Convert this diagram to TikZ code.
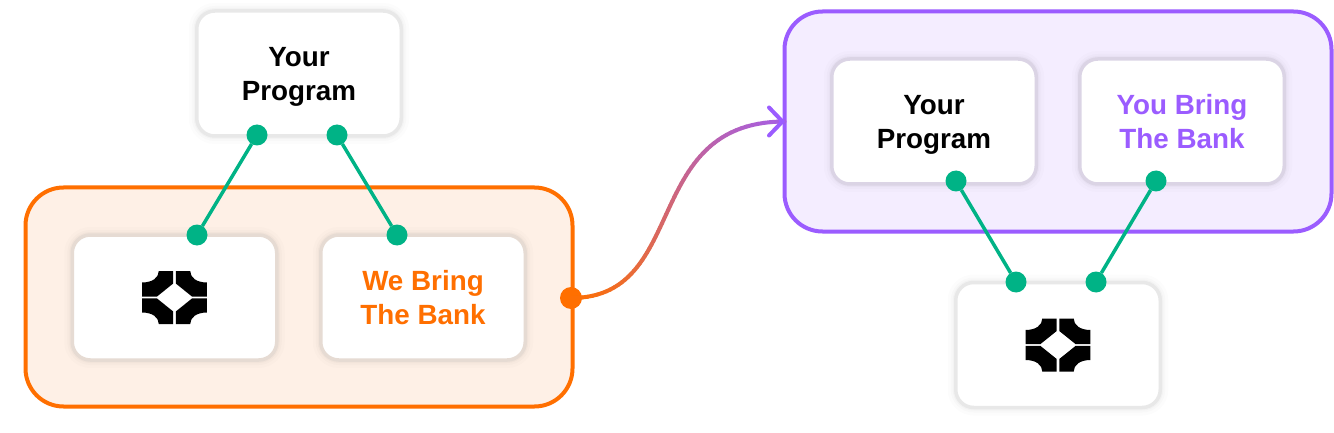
\documentclass[tikz,border=0pt]{standalone}
\usepackage{fontspec}
\setmainfont{Liberation Sans}
\definecolor{brandorange}{HTML}{FF6F00}
\definecolor{brandpurple}{HTML}{9B5CFF}
\definecolor{orangebg}{HTML}{FEF0E6}
\definecolor{purplebg}{HTML}{F4EDFF}
\definecolor{linkgreen}{HTML}{00B386}
\definecolor{cardedge}{HTML}{E8E8E8}
\definecolor{cardedgeo}{HTML}{E6DBD3}
\definecolor{cardedgep}{HTML}{DBD4E5}
\newcommand{\logoquad}{(-15.7,-26.5) -- (-1.3,-26.5) -- (-1.3,-14) -- (-17.7,-0.8) -- (-32.3,-0.8) -- (-32.3,-15) .. controls (-22,-15) and (-15.7,-20) .. (-15.7,-26.5) -- cycle}
\newcommand{\nd}[1]{\raisebox{0pt}[\height][0pt]{#1}}
\tikzset{
  x=1pt,y=-1pt,
  softshadow/.style={
    preaction={draw=black,draw opacity=.012,line width=16},
    preaction={draw=black,draw opacity=.015,line width=10,yshift=-1},
    preaction={draw=black,draw opacity=.02,line width=6,yshift=-1}},
  card/.style={softshadow,draw=#1,fill=white,line width=3.5,rounded corners=18,
    minimum width=204.5,minimum height=125,inner sep=0,outer sep=0,
    font=\fontsize{27.8}{34}\selectfont\bfseries,align=center,text=black},
  card/.default=cardedge,
  panel/.style={line width=4,rounded corners=38,minimum width=547,inner sep=0,outer sep=0},
  dot/.style={circle,fill=linkgreen,minimum size=21,inner sep=0,outer sep=0},
  link/.style={draw=linkgreen,line width=3.5},
}
\begin{document}
\begin{tikzpicture}
\useasboundingbox (0,0) rectangle (1334,433);
\fill[white] (0,0) rectangle (1334,433);
% panels
\node[panel,draw=brandorange,fill=orangebg,minimum height=219] (orangepanel) at (299,297) {};
\node[panel,draw=brandpurple,fill=purplebg,minimum height=220] (purplepanel) at (1058,121.5) {};
% cards
\node[card] (topprog) at (299,73.5) {Your\\\nd{Program}};
\node[card=cardedgeo] (logoa) at (174.5,297.5) {};
\node[card=cardedgeo,text=brandorange] (webring) at (423,297.5) {We Bring\\The Bank};
\node[card=cardedgep] (rightprog) at (934,121.5) {Your\\\nd{Program}};
\node[card=cardedgep,text=brandpurple] (youbring) at (1182,121.5) {You Bring\\The Bank};
\node[card] (logob) at (1058,345) {};
% logos
\foreach \c in {logoa,logob}{
  \foreach \sx/\sy in {1/1,-1/1,1/-1,-1/-1}{
    \fill[black,shift={(\c)},xscale=\sx,yscale=\sy] \logoquad;
  }
}
% dots
\node[dot] (d1) at (257,135) {};
\node[dot] (d2) at (337,135) {};
\node[dot] (d3) at (197,235) {};
\node[dot] (d4) at (397,235) {};
\node[dot] (d5) at (956,181) {};
\node[dot] (d6) at (1156,181) {};
\node[dot] (d7) at (1016,282) {};
\node[dot] (d8) at (1096,282) {};
% links
\draw[link] (d1) -- (d3);
\draw[link] (d2) -- (d4);
\draw[link] (d5) -- (d7);
\draw[link] (d6) -- (d8);
% gradient connector
\node[circle,fill=brandorange,minimum size=22,inner sep=0,outer sep=0] (src) at (571,298) {};
\coordinate (tip) at (purplepanel.west);
\path (src.center) .. controls (690,298) and (640,122) .. (tip)
  \foreach \i in {0,...,60}{ coordinate[pos=\i/60] (g\i) };
\foreach \i [remember=\i as \j (initially 0)] in {1,...,60}{
  \pgfmathtruncatemacro{\pc}{\i/60*88}
  \draw[line width=4,line cap=round,draw=brandpurple!\pc!brandorange] (g\j) -- (g\i);
}
\draw[brandpurple,line width=4,line cap=round,line join=miter]
  ([shift={(-15.5,-14)}]tip) -- ([shift={(-2,0)}]tip) -- ([shift={(-15.5,14)}]tip);
\end{tikzpicture}
\end{document}
